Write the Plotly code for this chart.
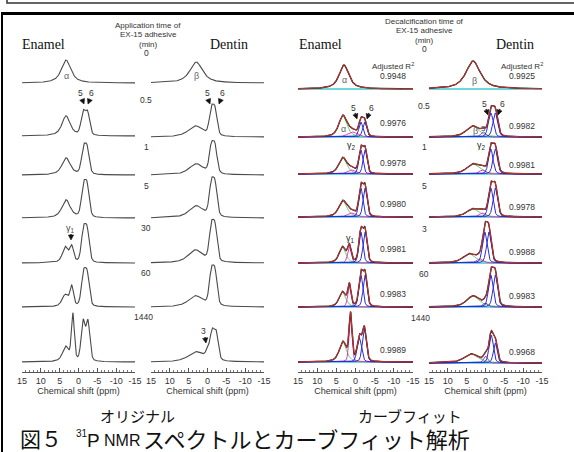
import numpy as np
import plotly.graph_objects as go

W, H = 574, 452

# ---------------- data ----------------
PPM = np.linspace(15, -15, 1201)
TIMES_ORIG = ["0", "0.5", "1", "5", "30", "60", "1440"]
TIMES_FIT = ["0", "0.5", "1", "5", "3", "60", "1440"]
R2_ENAMEL = ["0.9948", "0.9976", "0.9978", "0.9980", "0.9981", "0.9983", "0.9989"]
R2_DENTIN = ["0.9925", "0.9982", "0.9981", "0.9978", "0.9988", "0.9983", "0.9968"]
TICK_VALS = [15, 10, 5, 0, -5, -10, -15]
TICK_TEXT = ["15", "10", "5", "0", "-5", "-10", "-15"]

# peaks: (centre ppm, height, FWHM ppm, Lorentz fraction)
ENAMEL_ORIG = [
    [(3.3, 23, 3.0, .8)],
    [(3.3, 20, 2.6, .7), (-1.2, 22, 1.3, .3), (-2.4, 22, 1.3, .3)],
    [(3.3, 17, 2.6, .7), (-1.3, 24, 1.3, .3), (-2.3, 24, 1.3, .3)],
    [(3.3, 18, 2.6, .7), (-1.3, 29, 1.3, .3), (-2.3, 29, 1.3, .3)],
    [(3.5, 16, 1.8, .6), (1.8, 15, 1.2, .3), (-1.3, 30, 1.3, .3), (-2.3, 30, 1.3, .3)],
    [(3.5, 12, 2.0, .6), (1.8, 19, 1.1, .3), (-1.3, 30, 1.3, .3), (-2.3, 30, 1.3, .3)],
    [(3.4, 15, 2.0, .6), (1.5, 46, 0.9, .3), (-1.2, 39, 1.2, .3), (-2.5, 39, 1.2, .3)],
]
DENTIN_ORIG = [
    [(3.0, 21, 4.0, .8)],
    [(3.2, 11, 4.5, .7), (-1.0, 24, 1.3, .3), (-2.0, 24, 1.3, .3)],
    [(3.0, 11, 4.5, .7), (-1.0, 25, 1.3, .3), (-2.0, 25, 1.3, .3)],
    [(3.0, 12, 4.5, .7), (-1.0, 30, 1.3, .3), (-2.0, 30, 1.3, .3)],
    [(3.2, 13, 4.5, .7), (-1.0, 32, 1.3, .3), (-2.0, 32, 1.3, .3)],
    [(3.2, 11, 4.5, .7), (-1.0, 31, 1.3, .3), (-2.0, 31, 1.3, .3)],
    [(3.0, 10, 5.0, .7), (0.0, 7, 1.2, .3), (-1.2, 26, 1.3, .3), (-2.3, 26, 1.3, .3)],
]
# fitted components: (kind, centre ppm, height, FWHM ppm, Lorentz fraction)
ENAMEL_FIT = [
    [("a", 3.0, 24, 3.0, .8)],
    [("a", 3.3, 21, 2.5, .6), ("g", 0.8, 5, 3.0, .3), ("p", -1.4, 15, 1.2, .3), ("p", -2.4, 15, 1.2, .3)],
    [("a", 3.3, 16, 2.5, .6), ("g", 1.0, 4, 2.5, .3), ("p", -1.4, 24, 1.2, .3), ("p", -2.5, 24, 1.2, .3)],
    [("a", 3.3, 16, 2.5, .6), ("g", 1.0, 4, 2.5, .3), ("p", -1.4, 29, 1.2, .3), ("p", -2.5, 29, 1.2, .3)],
    [("a", 3.4, 16, 2.0, .6), ("g", 1.6, 16, 1.1, .3), ("p", -1.4, 31, 1.2, .3), ("p", -2.5, 31, 1.2, .3)],
    [("a", 3.4, 15, 2.0, .6), ("g", 1.6, 21, 1.0, .3), ("p", -1.4, 32, 1.2, .3), ("p", -2.5, 32, 1.2, .3)],
    [("a", 3.3, 20, 2.2, .6), ("g", 1.3, 46, 0.9, .3), ("p", -1.0, 24, 1.3, .3), ("p", -2.3, 33, 1.2, .3)],
]
DENTIN_FIT = [
    [("a", 3.3, 28, 4.5, .8)],
    [("a", 3.4, 11, 4.0, .6), ("q", 0.6, 5, 1.5, .3), ("p", -1.4, 24, 1.5, .3), ("p", -2.6, 24, 1.5, .3)],
    [("a", 3.3, 10, 4.0, .6), ("g", 0.8, 4, 2.0, .3), ("p", -1.4, 25, 1.4, .3), ("p", -2.6, 25, 1.4, .3)],
    [("a", 3.3, 8, 4.0, .6), ("g", 0.8, 4, 2.0, .3), ("p", -1.4, 29, 1.4, .3), ("p", -2.6, 29, 1.4, .3)],
    [("a", 4.3, 9, 4.0, .6), ("g", 1.5, 4, 2.0, .3), ("p", 0.2, 31, 1.4, .3), ("p", -0.9, 31, 1.4, .3)],
    [("a", 3.3, 11, 4.0, .6), ("q", 0.0, 4, 1.5, .3), ("p", -1.4, 32, 1.4, .3), ("p", -2.6, 32, 1.4, .3)],
    [("a", 3.8, 9, 4.5, .6), ("q", 0.0, 7, 1.3, .3), ("p", -1.5, 28, 1.3, .3), ("p", -2.6, 20, 1.2, .3)],
]

# ---------------- layout constants ----------------
COL_X = [(22, 135), (151, 264), (298, 413), (429, 542)]
BASE = [[83, 136, 175, 218, 263, 307, 362],
        [83, 137, 175, 218, 263, 307, 362],
        [89, 137, 174, 217, 263, 307, 362],
        [89, 137, 174, 217, 263, 307, 363]]
AXIS_Y = 372
LAT = "Liberation Sans, Arial, sans-serif"
SERIF = "Liberation Serif, Times New Roman, serif"
CJK = "Noto Sans CJK JP, sans-serif"
KIND_COLOR = {"a": "#6fd36f", "g": "#e040b8", "p": "#2b2bd6", "q": "#8a3fc0"}


def pv(x, c, h, w, eta):
    d = (x - c) / (w / 2)
    return h * (eta / (1 + d ** 2) + (1 - eta) * np.exp(-np.log(2) * d ** 2))


def fx(p):
    return p / W


def fy(p):
    return 1 - p / H


fig = go.Figure()
layout = {}
sets = [ENAMEL_ORIG, DENTIN_ORIG, ENAMEL_FIT, DENTIN_FIT]
for c in range(4):
    for r in range(7):
        k = c * 7 + r + 1
        xs = "x" if k == 1 else f"x{k}"
        ys = "y" if k == 1 else f"y{k}"
        xn = "xaxis" if k == 1 else f"xaxis{k}"
        yn = "yaxis" if k == 1 else f"yaxis{k}"
        b = BASE[c][r]
        pad = AXIS_Y - b if r == 6 else 4
        layout[yn] = dict(domain=[fy(b + pad), fy(b - 60)], range=[-pad, 60], visible=False, anchor=xs)
        if r == 6:
            layout[xn] = dict(
                domain=[fx(COL_X[c][0]), fx(COL_X[c][1])], range=[15, -15], anchor=ys,
                showgrid=False, zeroline=False, showline=True,
                linecolor="#555", linewidth=1, ticks="inside", ticklen=4, tickcolor="#555",
                tickmode="array", tickvals=TICK_VALS, ticktext=TICK_TEXT,
                tickfont=dict(family=LAT, size=9, color="#333"),
                minor=dict(tickmode="linear", tick0=0, dtick=1, ticks="inside", ticklen=2,
                           tickcolor="#777"),
                title=dict(text="Chemical shift (ppm)", font=dict(family=LAT, size=9, color="#333"),
                           standoff=2),
            )
        else:
            layout[xn] = dict(domain=[fx(COL_X[c][0]), fx(COL_X[c][1])], range=[15, -15],
                              anchor=ys, visible=False)
        peaks = sets[c][r]
        if c < 2:
            tot = sum(pv(PPM, *p) for p in peaks)
            fig.add_trace(go.Scatter(x=PPM, y=tot, mode="lines", xaxis=xs, yaxis=ys,
                                     line=dict(color="#4a4a4a", width=1.1), hoverinfo="skip"))
        else:
            tot = sum(pv(PPM, *p[1:]) for p in peaks)
            resid = np.zeros_like(PPM)
            fig.add_trace(go.Scatter(x=PPM, y=resid, mode="lines", xaxis=xs, yaxis=ys,
                                     line=dict(color="#40c8d0", width=1.6), hoverinfo="skip"))
            for p in peaks:
                fig.add_trace(go.Scatter(x=PPM, y=pv(PPM, *p[1:]), mode="lines", xaxis=xs, yaxis=ys,
                                         line=dict(color=KIND_COLOR[p[0]], width=1), hoverinfo="skip"))
            fig.add_trace(go.Scatter(x=PPM, y=tot, mode="lines", xaxis=xs, yaxis=ys,
                                     line=dict(color="#222", width=1.4), hoverinfo="skip"))
            fig.add_trace(go.Scatter(x=PPM, y=tot, mode="lines", xaxis=xs, yaxis=ys,
                                     line=dict(color="#d03030", width=1), hoverinfo="skip"))

ann = []
shapes = []


def text(x, y, t, size=8.5, family=LAT, color="#333", xanchor="center"):
    ann.append(dict(x=fx(x), y=fy(y), xref="paper", yref="paper", text=t, showarrow=False,
                    xanchor=xanchor, yanchor="middle", font=dict(family=family, size=size, color=color)))


def arrow(x0, y0, x1, y1):
    v = np.array([x1 - x0, y1 - y0], float)
    u = v / np.hypot(*v)
    n = np.array([-u[1], u[0]])
    tip = np.array([x1, y1], float)
    base = tip - 5 * u
    p1 = base + 2.6 * n
    p2 = base - 2.6 * n
    path = "M {} {} L {} {} L {} {} Z".format(fx(tip[0]), fy(tip[1]), fx(p1[0]), fy(p1[1]),
                                            fx(p2[0]), fy(p2[1]))
    shapes.append(dict(type="path", xref="paper", yref="paper", path=path,
                       fillcolor="#111", line=dict(color="#111", width=0.6)))
    shapes.append(dict(type="line", xref="paper", yref="paper", x0=fx(x0), y0=fy(y0),
                       x1=fx(base[0]), y1=fy(base[1]), line=dict(color="#111", width=1.2)))


# headers
for i, t in enumerate(["Application time of", "EX-15 adhesive", "(min)"]):
    text(148, 25 + 9.5 * i, t, size=8)
for i, t in enumerate(["Decalcification time of", "EX-15 adhesive", "(min)"]):
    text(424, 21 + 9.5 * i, t, size=8)
text(43, 45, "Enamel", size=14, family=SERIF, color="#111")
text(229, 45, "Dentin", size=14, family=SERIF, color="#111")
text(320, 44, "Enamel", size=14, family=SERIF, color="#111")
text(515, 44, "Dentin", size=14, family=SERIF, color="#111")

LEFT_LBL_Y = [53, 100, 147, 186, 228, 273, 317]
RIGHT_LBL_Y = [49, 106, 147, 186, 229, 274, 318]
for i in range(7):
    text(146 if i != 6 else 143, LEFT_LBL_Y[i], TIMES_ORIG[i], size=8.5)
    text(424 if i != 6 else 420, RIGHT_LBL_Y[i], TIMES_FIT[i], size=8.5)

text(393, 66, "Adjusted R<sup>2</sup>", size=8)
text(522, 66, "Adjusted R<sup>2</sup>", size=8)
R2E_Y = [76, 123, 163, 204, 249, 294, 350]
R2D_Y = [76, 126, 165, 207, 252, 296, 352]
for i in range(7):
    text(393, R2E_Y[i], R2_ENAMEL[i], size=8.5)
    text(522, R2D_Y[i], R2_DENTIN[i], size=8.5)

# peak labels
text(66, 76, "α", size=9, color="#666")
text(196, 76, "β", size=9, color="#666")
text(344, 80, "α", size=9, color="#666")
text(474, 81, "β", size=9, color="#666")
text(343, 129, "α", size=9, color="#666")
text(475, 131, "β", size=9, color="#666")
text(483, 128, "3", size=8, color="#444")
text(351, 146, "γ<sub>2</sub>", size=9, color="#222")
text(481, 146, "γ<sub>2</sub>", size=9, color="#222")
text(350, 238, "γ<sub>1</sub>", size=9, color="#222")
text(70, 229, "γ<sub>1</sub>", size=9, color="#444")
arrow(71, 234, 71, 240)
text(80, 93, "5", size=8.5)
arrow(82, 99, 84, 104)
text(91, 93, "6", size=8.5)
arrow(90, 99, 88, 104)
text(207, 93, "5", size=8.5)
arrow(208, 99, 210, 104)
text(222, 93, "6", size=8.5)
arrow(221, 99, 219, 104)
text(353, 108, "5", size=8.5)
arrow(355, 113, 357, 119)
text(371, 108, "6", size=8.5)
arrow(369, 113, 367, 119)
text(484, 104, "5", size=8.5)
arrow(486, 109, 488, 115)
text(502, 104, "6", size=8.5)
arrow(500, 109, 498, 115)
text(203, 331, "3", size=8.5)
arrow(205, 337, 206, 343)

# bottom captions
text(137, 415, "オリジナル", size=15, family=CJK, color="#111")
text(410, 415, "カーブフィット", size=15, family=CJK, color="#111")
text(18, 438, "図５", size=21, family=CJK, color="#111", xanchor="left")
text(82, 433, "31", size=10, family=LAT, color="#111")
text(94, 440, "P", size=19, family=LAT, color="#111")
text(122, 440, "NMR", size=16, family=LAT, color="#111")
text(141, 438, "スペクトルとカーブフィット解析", size=22, family=CJK, color="#111", xanchor="left")

shapes += [
    dict(type="rect", xref="paper", yref="paper", x0=fx(7), x1=1.05, y0=fy(3), y1=1.05,
         line=dict(color="#333", width=1.5)),
    dict(type="line", xref="paper", yref="paper", x0=fx(1), x1=1.05, y0=fy(13.5), y1=fy(13.5),
         line=dict(color="#000", width=3)),
    dict(type="line", xref="paper", yref="paper", x0=fx(2), x1=fx(2), y0=fy(12), y1=-0.05,
         line=dict(color="#000", width=2)),
]

fig.update_layout(width=W, height=H, margin=dict(l=0, r=0, t=0, b=0), showlegend=False,
                  paper_bgcolor="white", plot_bgcolor="rgba(0,0,0,0)", template="none",
                  annotations=ann, shapes=shapes, **layout)
fig.write_html("out.html")
